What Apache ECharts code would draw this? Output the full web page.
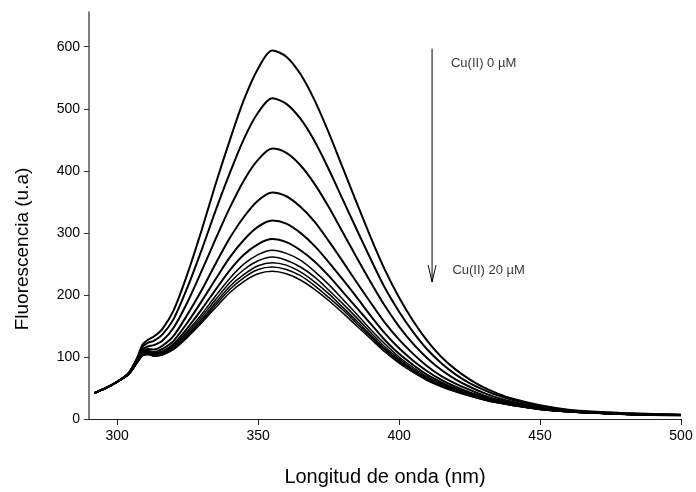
<!DOCTYPE html>
<html>
<head>
<meta charset="utf-8">
<style>
  html, body { margin: 0; padding: 0; background: #fff; }
  #chart { width: 696px; height: 492px; }
</style>
<script src="https://cdn.jsdelivr.net/npm/echarts@6/dist/echarts.min.js"></script>
</head>
<body>
<div id="chart"></div>
<script>
// Emission wavelengths (nm)
const wavelengths = [292, 296, 300, 304, 307, 309, 311, 313, 316, 320, 325, 330, 335, 340, 345, 350, 355, 360, 365, 370, 375, 380, 385, 390, 395, 400, 405, 410, 415, 420, 425, 430, 435, 440, 450, 460, 470, 480, 490, 500];

// Fluorescence spectra (u.a), one per Cu(II) addition, from 0 µM down to 20 µM
const cu00 = [42, 50, 60, 74, 98, 120, 128, 133, 145, 175, 235, 305, 380, 450, 515, 565, 594, 584, 556, 514, 462, 405, 348, 292, 240, 196, 158, 126, 100, 80, 64, 51, 41, 33, 22, 15, 11.5, 9.5, 8, 7];
const cu02 = [42, 50, 60, 74, 96, 116, 123, 126, 136, 161, 213, 273, 337, 397, 452, 494, 517, 508, 484, 448, 403, 354, 305, 257, 211, 173, 140, 112, 90, 72, 58, 47, 38, 31, 21, 14, 11, 9, 7.5, 7];
const cu04 = [42, 50, 60, 73, 94, 112, 117, 119, 126, 147, 189, 239, 291, 341, 385, 418, 436, 429, 409, 379, 342, 301, 260, 220, 182, 149, 121, 98, 79, 64, 52, 42, 34, 28, 19, 13.5, 10.5, 8.5, 7.5, 6.5];
const cu06 = [42, 50, 60, 73, 93, 108, 113, 112, 118, 134, 169, 208, 251, 292, 326, 352, 365, 359, 342, 318, 287, 254, 220, 187, 155, 128, 105, 85, 69, 57, 47, 38, 31, 26, 18, 12.5, 10, 8, 7, 6.5];
const cu08 = [42, 50, 60, 72, 92, 106, 110, 108, 113, 126, 156, 190, 226, 261, 289, 310, 320, 315, 300, 279, 253, 225, 196, 166, 138, 114, 94, 77, 63, 52, 43, 36, 29, 25, 17, 12, 10, 8, 6.5, 6];
const cu10 = [42, 50, 60, 72, 91, 105, 108, 106, 109, 121, 147, 177, 209, 240, 265, 282, 290, 285, 272, 254, 231, 205, 179, 153, 127, 105, 87, 71, 59, 49, 41, 34, 28, 24, 16.5, 12, 9.5, 7.5, 6.5, 6];
const cu12 = [42, 50, 60, 72, 91, 104, 106, 104, 107, 118, 142, 169, 199, 227, 250, 265, 272, 267, 256, 238, 217, 193, 169, 144, 121, 100, 83, 68, 57, 47, 40, 33, 27, 23, 16, 12, 9.5, 7.5, 6.5, 6];
const cu14 = [42, 50, 60, 72, 91, 103, 106, 103, 106, 116, 139, 165, 193, 220, 241, 255, 261, 256, 245, 229, 208, 186, 163, 139, 116, 97, 80, 66, 55, 46, 39, 32, 27, 23, 16, 11.5, 9.5, 7.5, 6.5, 6];
const cu16 = [42, 50, 60, 72, 90, 103, 105, 102, 105, 114, 136, 161, 188, 214, 233, 247, 252, 248, 237, 221, 202, 180, 158, 135, 113, 94, 78, 64, 54, 45, 38, 32, 27, 22, 15.5, 11.5, 9.5, 7.5, 6.5, 6];
const cu18 = [42, 50, 60, 72, 90, 102, 104, 102, 104, 113, 134, 158, 184, 209, 228, 241, 245, 241, 231, 215, 196, 176, 154, 132, 111, 92, 77, 63, 53, 45, 38, 31, 26, 22, 15.5, 11.5, 9.5, 7.5, 6.5, 6];
const cu20 = [42, 50, 60, 72, 90, 102, 104, 101, 103, 112, 132, 155, 180, 204, 222, 234, 238, 234, 224, 209, 191, 171, 150, 129, 108, 90, 75, 62, 52, 44, 37, 31, 26, 22, 15.5, 11.5, 9.5, 7.5, 6.5, 6];

const spectra = [cu00, cu02, cu04, cu06, cu08, cu10, cu12, cu14, cu16, cu18, cu20];

// Axis ticks and titles
const xTicks = [300, 350, 400, 450, 500];
const yTicks = [0, 100, 200, 300, 400, 500, 600];
const xTitle = 'Longitud de onda (nm)';
const yTitle = 'Fluorescencia (u.a)';

// Concentration arrow (wavelength, intensity) and its labels
const arrowX = 411.7;
const arrowTop = 597;
const arrowBottom = 221;
const labelTop = { x: 418.4, y: 573, text: 'Cu(II) 0 \u00B5M' };
const labelBottom = { x: 418.9, y: 239, text: 'Cu(II) 20 \u00B5M' };

const font = 'Liberation Sans, Arial, sans-serif';

const lineSeries = spectra.map((vals, i) => ({
  type: 'line',
  data: wavelengths.map((w, j) => [w, vals[j]]),
  showSymbol: false,
  smooth: 0.3,
  silent: true,
  lineStyle: { color: '#000', width: i < 6 ? 2 : 1.5 },
  z: 3
}));

const arrowSeries = [
  {
    type: 'line',
    data: [[arrowX, arrowTop], [arrowX, arrowBottom]],
    showSymbol: false,
    silent: true,
    lineStyle: { color: '#000', width: 1 }
  },
  {
    type: 'line',
    data: [[arrowX - 1.4, arrowBottom + 27], [arrowX, arrowBottom], [arrowX + 1.4, arrowBottom + 27]],
    showSymbol: false,
    silent: true,
    lineStyle: { color: '#000', width: 1 }
  },
  {
    type: 'scatter',
    data: [labelTop, labelBottom].map(l => [l.x, l.y, l.text]),
    symbolSize: 0,
    silent: true,
    label: {
      show: true,
      position: 'right',
      distance: 0,
      formatter: p => p.data[2],
      color: '#000',
      fontFamily: font,
      fontSize: 13
    }
  }
];

const chart = echarts.init(document.getElementById('chart'), null, { renderer: 'canvas' });
chart.setOption({
  animation: false,
  backgroundColor: '#fff',
  grid: { left: 89, right: 15, top: 12, bottom: 73 },
  // vertical axis title sits a little below the middle of the axis
  graphic: [{
    type: 'text',
    x: 23,
    y: 249,
    rotation: Math.PI / 2,
    style: {
      text: yTitle,
      fill: '#000',
      font: '19px ' + font,
      textAlign: 'center',
      textVerticalAlign: 'middle'
    }
  }],
  xAxis: {
    type: 'value',
    min: 290,
    max: 500,
    name: xTitle,
    nameLocation: 'middle',
    nameGap: 48,
    nameTextStyle: { color: '#000', fontFamily: font, fontSize: 20 },
    axisLine: { lineStyle: { color: '#222', width: 1 } },
    axisTick: { show: true, length: 6, customValues: xTicks, lineStyle: { color: '#222' } },
    axisLabel: { customValues: xTicks, color: '#000', fontFamily: font, fontSize: 14, margin: 10 },
    splitLine: { show: false }
  },
  yAxis: {
    type: 'value',
    min: 0,
    max: 656,
    axisLine: { show: true, lineStyle: { color: '#555', width: 1.5 } },
    axisTick: { show: true, length: 5, customValues: yTicks, lineStyle: { color: '#333' } },
    axisLabel: { customValues: yTicks, color: '#000', fontFamily: font, fontSize: 14, margin: 9 },
    splitLine: { show: false }
  },
  series: lineSeries.concat(arrowSeries)
});
</script>
</body>
</html>
